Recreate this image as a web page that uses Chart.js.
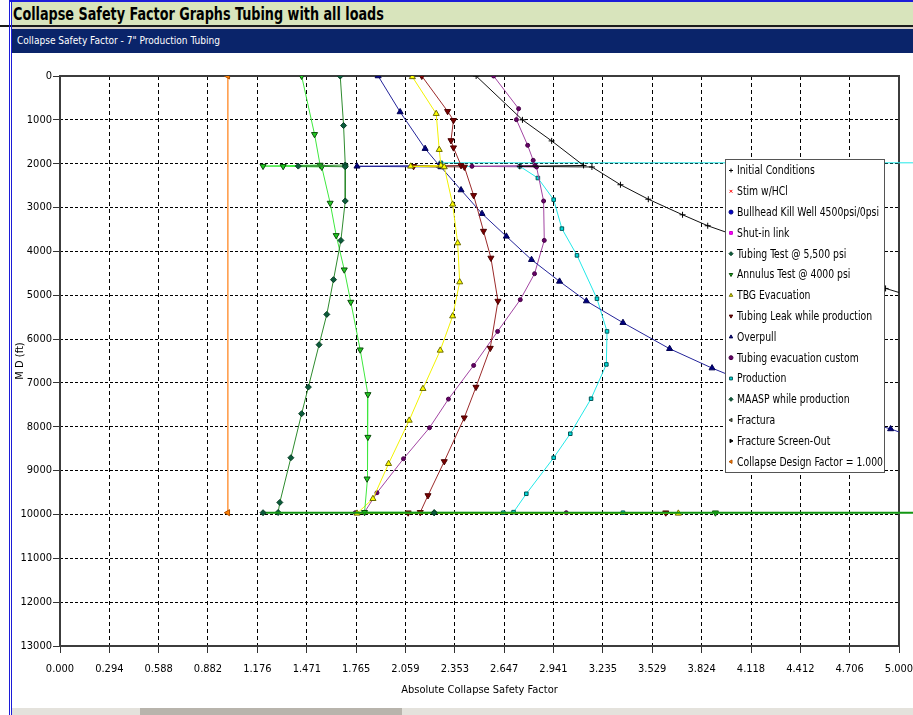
<!DOCTYPE html>
<html>
<head>
<meta charset="utf-8">
<title>Collapse Safety Factor</title>
<script src="https://cdn.jsdelivr.net/npm/chart.js@4.4.1/dist/chart.umd.min.js"></script>
<style>
  body { margin: 0; background: #fff; }
  #page { position: relative; width: 913px; height: 715px; overflow: hidden; background: #fff; }
  #topLine { position: absolute; left: 9px; top: 0; width: 904px; height: 2px; background: #1c1cd8; }
  #sheetTitle {
    position: absolute; left: 11px; top: 2px; width: 902px; height: 23px;
    background: #d8e4bc; color: #000; font: bold 18px "Liberation Sans Narrow", "Arial Narrow", "DejaVu Sans Condensed", sans-serif;
    line-height: 23px; padding-left: 2px; box-sizing: border-box; white-space: nowrap;
  }
  #headRule { position: absolute; left: 0; top: 25px; width: 913px; height: 2px; background: #1a1a1a; }
  #gap { position: absolute; left: 12px; top: 27px; width: 901px; height: 2px; background: #d4d0c8; }
  #panelTitle {
    position: absolute; left: 12px; top: 29px; width: 901px; height: 24px;
    background: #0a246a; color: #fff; font: 11px "Liberation Sans Narrow", "Arial Narrow", "DejaVu Sans Condensed", sans-serif;
    line-height: 24px; padding-left: 5px; box-sizing: border-box; white-space: nowrap;
  }
  .fit { display: inline-block; transform-origin: 0 50%; }
  #chartBox { position: absolute; left: 0; top: 55px; width: 913px; height: 648px; }
  #frameLeft { position: absolute; left: 9px; top: 0; width: 1px; height: 715px; border-left: 3px double #1c1cd8; }
  #statusBar { position: absolute; left: 12px; top: 708px; width: 901px; height: 7px; background: #e4e2dc; }
  #statusBar span { position: absolute; top: 0; height: 7px; background: #b8b4ac; }
</style>
</head>
<body>
<div id="page">
  <div id="topLine"></div>
  <div id="sheetTitle"><span class="fit" data-width="371">Collapse Safety Factor Graphs Tubing with all loads</span></div>
  <div id="headRule"></div>
  <div id="gap"></div>
  <div id="panelTitle"><span class="fit" data-width="203">Collapse Safety Factor - 7" Production Tubing</span></div>
  <div id="chartBox"><canvas id="csfChart" width="913" height="648"></canvas></div>
  <div id="frameLeft"></div>
  <div id="statusBar"><span style="left:128px;width:262px"></span></div>
</div>
<script>
// axis ticks
const sfTicks = [0.000, 0.294, 0.588, 0.882, 1.176, 1.471, 1.765, 2.059, 2.353, 2.647, 2.941, 3.235, 3.529, 3.824, 4.118, 4.412, 4.706, 5.000];
const mdTicks = [0, 1000, 2000, 3000, 4000, 5000, 6000, 7000, 8000, 9000, 10000, 11000, 12000, 13000];

const initMD = [0, 1000, 1480, 2040, 2060, 2075, 2480, 2810, 3165, 3415, 4100, 4845, 4960];
const initSF = [2.48, 2.756, 2.93, 3.12, 2.74, 3.17, 3.34, 3.506, 3.71, 3.86, 4.37, 4.92, 5.02];

const stimMD = [];
const stimSF = [];

const bullMD = [];
const bullSF = [];

const shutMD = [];
const shutSF = [];

const ttMD = [0, 1130, 2030, 2055, 2070, 2850, 3750, 4645, 5437, 6128, 7095, 7702, 8706, 9726, 9955, 9960];
const ttSF = [1.67, 1.69, 1.70, 1.42, 1.70, 1.70, 1.674, 1.63, 1.59, 1.544, 1.48, 1.44, 1.376, 1.31, 1.30, 2.23];

const atMD = [0, 1330, 2030, 2055, 2060, 2075, 2897, 3635, 4418, 5156, 6243, 7262, 8236, 9186, 9950, 9960, 9960];
const atSF = [1.44, 1.517, 1.55, 1.21, 1.33, 1.56, 1.61, 1.646, 1.694, 1.733, 1.789, 1.835, 1.835, 1.83, 1.815, 3.906, 5.3];

const tbgMD = [20, 860, 1680, 2040, 2060, 2075, 2927, 3810, 4700, 5476, 6258, 7132, 7855, 8843, 9642, 9975, 9975];
const tbgSF = [2.10, 2.242, 2.26, 2.27, 2.09, 2.29, 2.34, 2.37, 2.382, 2.34, 2.266, 2.163, 2.081, 1.958, 1.865, 1.77, 3.685];

const leakMD = [0, 805, 1010, 1470, 1634, 2040, 2060, 2075, 2722, 3537, 4150, 5133, 6206, 7095, 7794, 8791, 9567, 9950, 9960, 9960];
const leakSF = [2.156, 2.31, 2.345, 2.33, 2.345, 2.39, 2.107, 2.41, 2.465, 2.524, 2.568, 2.61, 2.564, 2.479, 2.409, 2.29, 2.193, 2.147, 2.075, 3.61];

const opMD = [0, 820, 1657, 2040, 2060, 2075, 2600, 3140, 3657, 4190, 4684, 5133, 5626, 6220, 6662, 7200, 7650, 8050, 8200];
const opSF = [1.896, 2.027, 2.176, 2.26, 1.77, 2.27, 2.39, 2.515, 2.66, 2.81, 2.977, 3.137, 3.355, 3.633, 3.886, 4.23, 4.6, 4.95, 5.06];

const tecMD = [0, 745, 995, 1581, 1923, 2040, 2060, 2075, 2851, 3749, 4509, 5102, 5825, 6601, 7369, 8022, 8729, 9505, 9947, 9960, 9960];
const tecSF = [2.584, 2.733, 2.72, 2.787, 2.82, 2.83, 2.455, 2.84, 2.882, 2.886, 2.828, 2.743, 2.608, 2.465, 2.315, 2.202, 2.047, 1.889, 1.815, 1.76, 3.017];

const prodMD = [0, 1980, 1980, 2060, 2060, 2327, 2820, 3481, 4091, 5079, 5825, 6578, 7360, 8159, 8706, 9528, 9947, 9960, 9960];
const prodSF = [5.3, 5.3, 2.27, 2.27, 2.74, 2.848, 2.942, 2.991, 3.081, 3.2, 3.26, 3.256, 3.165, 3.041, 2.942, 2.779, 2.703, 2.642, 3.355];

const maaspMD = [9960, 9960, 9960];
const maaspSF = [1.21, 2.23, 5.3];

const fracMD = [];
const fracSF = [];

const screenMD = [];
const screenSF = [];

const cdfMD = [0, 9960];
const cdfSF = [1.0, 1.0];

const narrow = '"Liberation Sans Narrow", "Arial Narrow", "DejaVu Sans Condensed", sans-serif';

// squeeze header texts to the width they take in the original
document.querySelectorAll('.fit').forEach((el) => {
  const k = Number(el.dataset.width) / el.getBoundingClientRect().width;
  if (k < 1) el.style.transform = 'scaleX(' + k.toFixed(3) + ')';
});

function pts(md, sf) {
  return md.map((d, i) => ({ x: sf[i], y: d }));
}

function series(label, md, sf, s) {
  return {
    label: label,
    data: pts(md, sf),
    showLine: true,
    borderColor: s.line,
    borderWidth: s.width || 1,
    pointStyle: s.style,
    pointRotation: s.rot || 0,
    pointRadius: s.r || 3,
    pointBackgroundColor: s.fill,
    pointBorderColor: s.edge,
    pointBorderWidth: 1,
    clip: s.clip,
    order: s.order || 0
  };
}

const overflowRight = { left: 1, top: 1, right: 14, bottom: 1 };

const datasets = [
  series('Initial Conditions', initMD, initSF, { line: '#111', fill: '#000', edge: '#000', style: 'cross', r: 3 }),
  series('Stim w/HCl', stimMD, stimSF, { line: '#ff0000', fill: '#ff0000', edge: '#ff0000', style: 'crossRot', r: 3 }),
  series('Bullhead Kill Well 4500psi/0psi', bullMD, bullSF, { line: '#0000cc', fill: '#0000cc', edge: '#000080', style: 'circle', r: 2 }),
  series('Shut-in link', shutMD, shutSF, { line: '#ff00ff', fill: '#ff00ff', edge: '#cc00cc', style: 'rect', r: 2.5 }),
  series('Tubing Test @ 5,500 psi', ttMD, ttSF, { line: '#2e8b2e', fill: '#0b5b3b', edge: '#063d22', style: 'rectRot', r: 3 }),
  series('Annulus Test @ 4000 psi', atMD, atSF, { line: '#3ee83e', fill: '#22cc22', edge: '#0a4a0a', style: 'triangle', rot: 180, r: 3.5 }),
  series('TBG Evacuation', tbgMD, tbgSF, { line: '#f2f200', fill: '#ffff00', edge: '#6b6b00', style: 'triangle', r: 3.5 }),
  series('Tubing Leak while production', leakMD, leakSF, { line: '#9b2a2a', fill: '#7a0000', edge: '#4a0000', style: 'triangle', rot: 180, r: 3.5 }),
  series('Overpull', opMD, opSF, { line: '#24249a', fill: '#000080', edge: '#000050', style: 'triangle', r: 3.5 }),
  series('Tubing evacuation custom', tecMD, tecSF, { line: '#a244a2', fill: '#660066', edge: '#440044', style: 'circle', r: 2 }),
  series('Production', prodMD, prodSF, { line: '#22e8e8', fill: '#00dddd', edge: '#005555', style: 'rect', r: 2.5, clip: overflowRight }),
  series('MAASP while production', maaspMD, maaspSF, { line: '#139613', fill: '#0b5b3b', edge: '#063d22', style: 'rectRot', r: 3, width: 2, clip: overflowRight, order: -1 }),
  series('Fractura', fracMD, fracSF, { line: '#556b2f', fill: '#556b2f', edge: '#333', style: 'triangle', rot: -90, r: 3 }),
  series('Fracture Screen-Out', screenMD, screenSF, { line: '#000', fill: '#000', edge: '#000', style: 'triangle', rot: 90, r: 3 }),
  series('Collapse Design Factor = 1.000', cdfMD, cdfSF, { line: '#ffa050', fill: '#ff8000', edge: '#b05000', style: 'triangle', rot: -90, r: 3.5 })
];

// frame around the plotting area (all four sides)
const plotFrame = {
  id: 'plotFrame',
  beforeDatasetsDraw(chart) {
    const a = chart.chartArea;
    const ctx = chart.ctx;
    ctx.save();
    ctx.strokeStyle = '#3c3c3c';
    ctx.lineWidth = 2;
    ctx.strokeRect(a.left, a.top, a.right - a.left, a.bottom - a.top);
    ctx.restore();
  }
};

// boxed legend sitting inside the plot on the right
const boxLegend = {
  id: 'boxLegend',
  afterDraw(chart) {
    const ctx = chart.ctx;
    const x0 = 725, y0 = 104, w = 159, h = 313;
    ctx.save();
    ctx.fillStyle = '#fff';
    ctx.fillRect(x0, y0, w, h);
    ctx.strokeStyle = '#555';
    ctx.lineWidth = 1;
    ctx.strokeRect(x0 + 0.5, y0 + 0.5, w, h);
    ctx.font = '13px ' + narrow;
    ctx.textBaseline = 'middle';
    const widest = ctx.measureText('Bullhead Kill Well 4500psi/0psi').width;
    const squeeze = Math.min(1, 142 / widest);
    chart.data.datasets.forEach((ds, i) => {
      const y = y0 + 11.5 + i * 20.8;
      ctx.fillStyle = ds.pointBackgroundColor;
      ctx.strokeStyle = ds.pointBorderColor;
      Chart.helpers.drawPoint(ctx, {
        pointStyle: ds.pointStyle, rotation: ds.pointRotation, radius: 2, borderWidth: 1
      }, x0 + 6, y);
      ctx.save();
      ctx.translate(x0 + 12, y + 0.5);
      ctx.scale(squeeze, 1);
      ctx.fillStyle = '#000';
      ctx.fillText(ds.label, 0, 0);
      ctx.restore();
    });
    ctx.restore();
  }
};

new Chart(document.getElementById('csfChart').getContext('2d'), {
  type: 'scatter',
  data: { datasets: datasets },
  options: {
    responsive: false,
    animation: false,
    layout: { padding: { left: 0, top: 21, right: 14, bottom: 0 } },
    plugins: {
      legend: { display: false },
      tooltip: { enabled: false }
    },
    elements: { line: { tension: 0 } },
    scales: {
      x: {
        type: 'linear',
        min: 0,
        max: 5,
        afterBuildTicks: (scale) => { scale.ticks = sfTicks.map(v => ({ value: v })); },
        afterFit: (scale) => { scale.height = 57; scale.paddingLeft = 0; scale.paddingRight = 0; },
        ticks: {
          autoSkip: false, maxRotation: 0, padding: 10, color: '#000',
          font: { family: narrow, size: 11 },
          callback: (v) => Number(v).toFixed(3)
        },
        grid: { color: '#000', lineWidth: 1, tickLength: 7, tickColor: '#333' },
        border: { display: false, dash: [4, 3] },
        title: {
          display: true, text: 'Absolute Collapse Safety Factor', color: '#000',
          font: { family: narrow, size: 11 }, padding: { top: 0, bottom: 6 }
        }
      },
      y: {
        type: 'linear',
        reverse: true,
        min: 0,
        max: 13000,
        afterBuildTicks: (scale) => { scale.ticks = mdTicks.map(v => ({ value: v })); },
        afterFit: (scale) => { scale.width = 60; scale.paddingTop = 0; scale.paddingBottom = 0; },
        ticks: {
          padding: 1, color: '#000',
          font: { family: narrow, size: 11 },
          callback: (v) => String(v)
        },
        grid: { color: '#000', lineWidth: 1, tickLength: 7, tickColor: '#333' },
        border: { display: false, dash: [3, 2] },
        title: {
          display: true, text: 'M D (ft)', color: '#000',
          font: { family: narrow, size: 11 }, padding: { top: 14, bottom: 0 }
        }
      }
    }
  },
  plugins: [plotFrame, boxLegend]
});
</script>
</body>
</html>
